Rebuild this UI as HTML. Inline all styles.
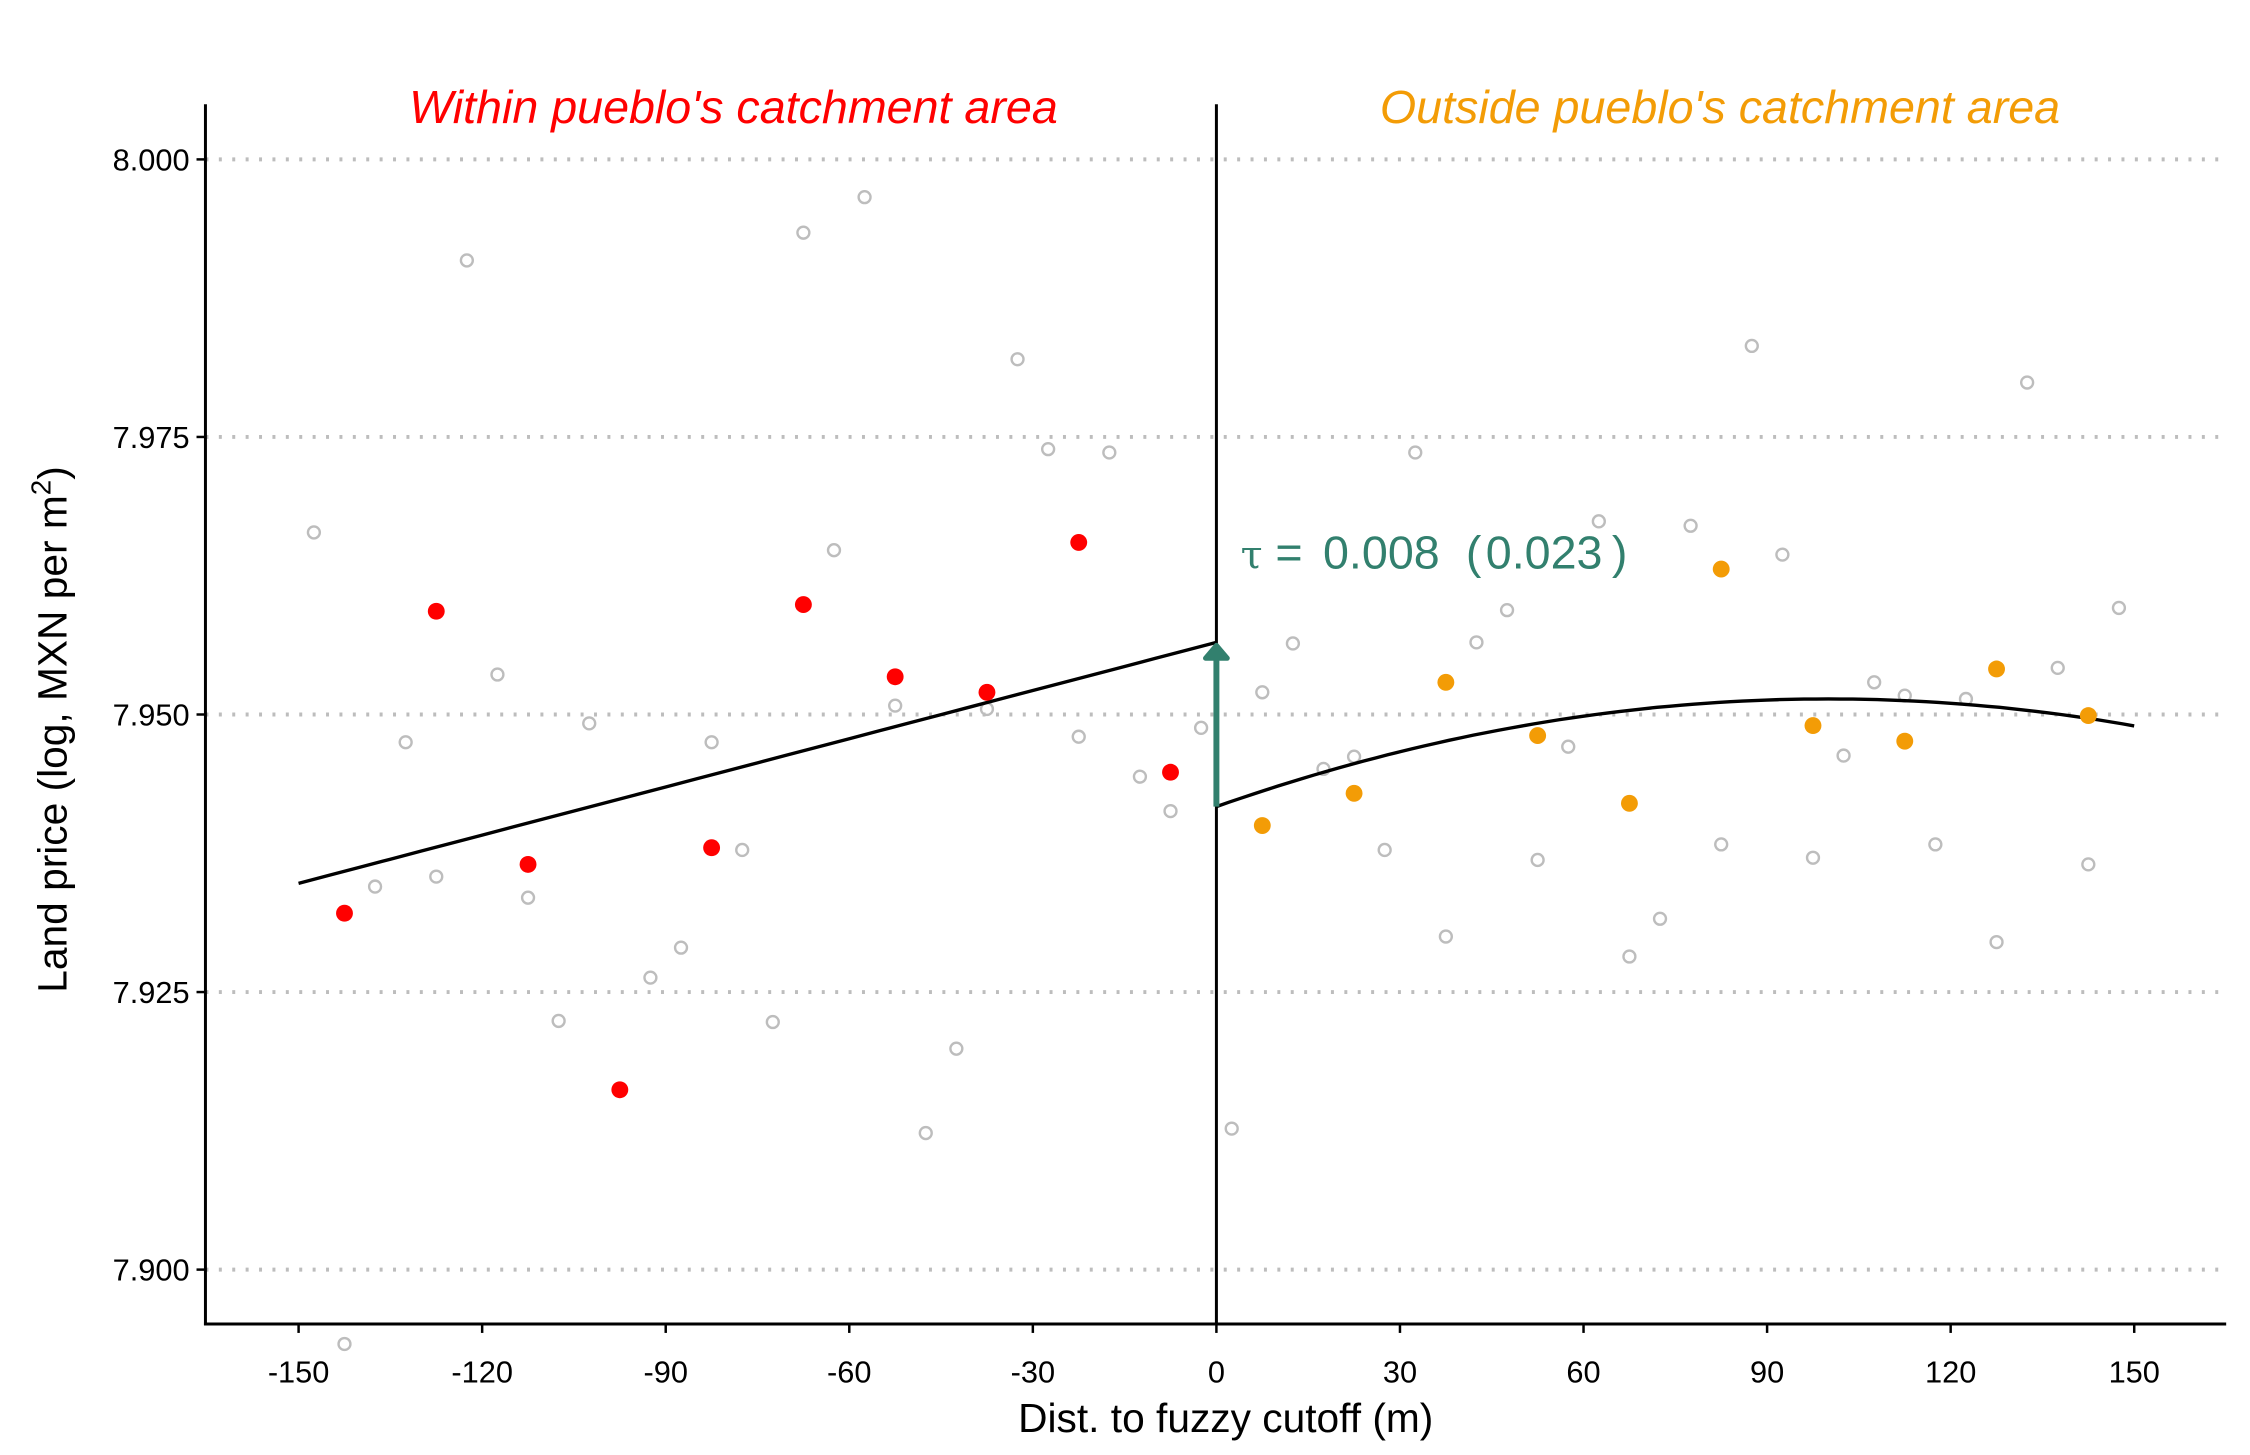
<!DOCTYPE html>
<html><head><meta charset="utf-8"><style>body{margin:0;background:#fff;position:relative}svg{display:block;font-family:"Liberation Sans",sans-serif}</style></head>
<body>
<svg width="2250" height="1455" viewBox="0 0 2250 1455" xmlns="http://www.w3.org/2000/svg">
<g id="chart" transform="scale(0.9925)"></g>
<g transform="scale(0.9925)">
<text x="739" y="124" text-anchor="middle" font-size="47" font-style="italic" fill="#ff0000">Within pueblo's catchment area</text>
<text x="1733" y="124" text-anchor="middle" font-size="47" font-style="italic" fill="#f39c06">Outside pueblo's catchment area</text>
<g fill="#32806e" font-size="47">
<text x="1250" y="573" font-family="DejaVu Serif, serif" font-size="40">τ</text>
<text x="1285" y="573">=</text>
<text x="1333" y="573">0.008</text>
<text x="1477" y="573">(</text>
<text x="1497" y="573">0.023</text>
<text x="1624" y="573">)</text>
</g>
<text x="1235" y="1443" text-anchor="middle" font-size="41">Dist. to fuzzy cutoff (m)</text>
<text transform="translate(67,735) rotate(-90)" text-anchor="middle" font-size="41">Land price (log, MXN per m<tspan font-size="28" dy="-16">2</tspan><tspan dy="16">)</tspan></text>
</g>
</svg>
<script>
const grayLeftX=[-147.5,-142.5,-137.5,-132.5,-127.5,-122.5,-117.5,-112.5,-107.5,-102.5,-92.5,-87.5,-82.5,-77.5,-72.5,-67.5,-62.5,-57.5,-52.5,-47.5,-42.5,-37.5,-32.5,-27.5,-22.5,-17.5,-12.5,-7.5,-2.5];
const grayLeftY=[7.9664,7.8933,7.9345,7.9475,7.9354,7.9909,7.9536,7.9335,7.9224,7.9492,7.9263,7.9290,7.9475,7.9378,7.9223,7.9934,7.9648,7.9966,7.9508,7.9123,7.9199,7.9505,7.9820,7.9739,7.9480,7.9736,7.9444,7.9413,7.9488];
const grayRightX=[2.5,7.5,12.5,17.5,22.5,27.5,32.5,37.5,42.5,47.5,52.5,57.5,62.5,67.5,72.5,77.5,82.5,87.5,92.5,97.5,102.5,107.5,112.5,117.5,122.5,127.5,132.5,137.5,142.5,147.5];
const grayRightY=[7.9127,7.9520,7.9564,7.9451,7.9462,7.9378,7.9736,7.9300,7.9565,7.9594,7.9369,7.9471,7.9674,7.9282,7.9316,7.9670,7.9383,7.9832,7.9644,7.9371,7.9463,7.9529,7.9517,7.9383,7.9514,7.9295,7.9799,7.9542,7.9365,7.9596];
const redX=[-142.5,-127.5,-112.5,-97.5,-82.5,-67.5,-52.5,-37.5,-22.5,-7.5];
const redY=[7.9321,7.9593,7.9365,7.9162,7.9380,7.9599,7.9534,7.9520,7.9655,7.9448];
const orangeX=[7.5,22.5,37.5,52.5,67.5,82.5,97.5,112.5,127.5,142.5];
const orangeY=[7.9400,7.9429,7.9529,7.9481,7.9420,7.9631,7.9490,7.9476,7.9541,7.9499];
const leftFit=[7.9565,0.0001447];
const rightFit=[7.9417,0.000194,-0.00000097];
const xTicks=[-150,-120,-90,-60,-30,0,30,60,90,120,150];
const yTicks=[7.900,7.925,7.950,7.975,8.000];
const yTickLabels=["7.900","7.925","7.950","7.975","8.000"];

const svg=document.getElementById('chart');
const NS='http://www.w3.org/2000/svg';
const X=v=>1225.6+v*6.165;
const Y=v=>160.6+(8-v)*11186;
function mk(tag,attrs,parent){const e=document.createElementNS(NS,tag);for(const k in attrs)e.setAttribute(k,attrs[k]);(parent||svg).appendChild(e);return e;}

yTicks.forEach((t,i)=>{
  const g=mk('line',{x1:207,x2:2243,y1:Y(t),y2:Y(t),stroke:'#bdbdbd','stroke-width':4,'stroke-dasharray':'3 10.5'});
  
  
});
let a=mk('line',{x1:207,x2:207,y1:105,y2:1335,stroke:'#000','stroke-width':3});


a=mk('line',{x1:205.5,x2:2243,y1:1334,y2:1334,stroke:'#000','stroke-width':3});


a=mk('line',{x1:X(0),x2:X(0),y1:105,y2:1334,stroke:'#000','stroke-width':3});


yTicks.forEach((t,i)=>{
  const tk=mk('line',{x1:198,x2:207,y1:Y(t),y2:Y(t),stroke:'#000','stroke-width':2.5});
  
  
  const tx=mk('text',{x:191,y:Y(t)+11,'text-anchor':'end','font-size':31});
  tx.textContent=yTickLabels[i];
  
  
});
xTicks.forEach(t=>{
  const tk=mk('line',{x1:X(t),x2:X(t),y1:1334,y2:1343,stroke:'#000','stroke-width':2.5});
  
  
  const tx=mk('text',{x:X(t),y:1393,'text-anchor':'middle','font-size':31});
  tx.textContent=String(t);
  
  
});
function grays(xs,ys){xs.forEach((x,i)=>{
  const c=mk('circle',{cx:X(x),cy:Y(ys[i]),r:6,fill:'none',stroke:'#bdbdbd','stroke-width':2.4});
  
  
});}
grays(grayLeftX,grayLeftY);grays(grayRightX,grayRightY);
let d='';
for(let x=-150;x<=0;x+=5){d+=(x===-150?'M':'L')+X(x).toFixed(1)+','+Y(leftFit[0]+leftFit[1]*x).toFixed(1);}
let p=mk('path',{d:d,fill:'none',stroke:'#000','stroke-width':3.4});


d='';
for(let x=0;x<=150;x+=2){d+=(x===0?'M':'L')+X(x).toFixed(1)+','+Y(rightFit[0]+rightFit[1]*x+rightFit[2]*x*x).toFixed(1);}
p=mk('path',{d:d,fill:'none',stroke:'#000','stroke-width':3.4});


redX.forEach((x,i)=>{
  const c=mk('circle',{cx:X(x),cy:Y(redY[i]),r:8.5,fill:'#ff0000'});
  
  
});
orangeX.forEach((x,i)=>{
  const c=mk('circle',{cx:X(x),cy:Y(orangeY[i]),r:8.5,fill:'#f39c06'});
  
  
});
const y0=Y(rightFit[0]),y1=Y(leftFit[0]);
p=mk('line',{x1:X(0),x2:X(0),y1:y0,y2:y1+8,stroke:'#32806e','stroke-width':6});


p=mk('path',{d:`M${X(0)-11},${y1+16} L${X(0)},${y1+3} L${X(0)+11},${y1+16} Z`,fill:'#32806e',stroke:'#32806e','stroke-width':5,'stroke-linejoin':'round'});


</script>
</body></html>
